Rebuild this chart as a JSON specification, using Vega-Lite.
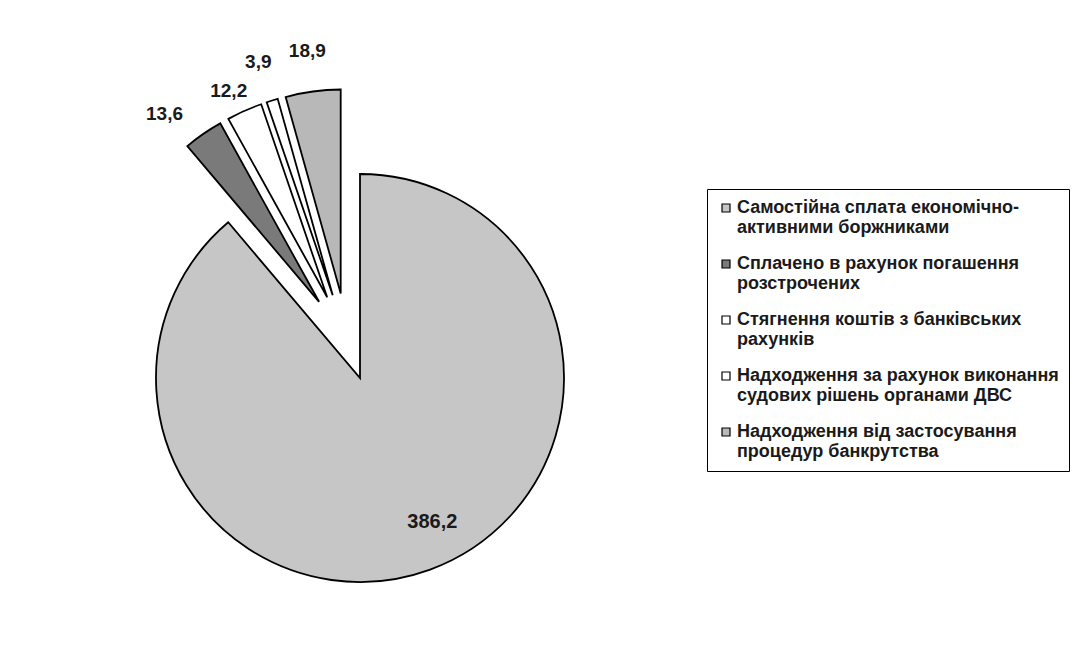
{
  "$schema": "https://vega.github.io/schema/vega-lite/v6.json",
  "width": 399,
  "height": 308,
  "autosize": {"type": "none"},
  "padding": {"left": 148, "top": 189, "right": 537, "bottom": 149},
  "background": "white",
  "config": {
    "view": {"stroke": null},
    "locale": {"number": {"decimal": ",", "thousands": " ", "grouping": [3], "currency": ["", ""]}},
    "text": {"font": "Liberation Sans", "fontWeight": "bold", "fontSize": 19, "fill": "#1a1a1a"}
  },
  "data": {
    "values": [
      {"cat": "Самостійна сплата  економічно-|активними боржниками", "value": 386.2, "order": 1},
      {"cat": "Сплачено в рахунок погашення|розстрочених", "value": 13.6, "order": 2},
      {"cat": "Стягнення коштів з банківських|рахунків", "value": 12.2, "order": 3},
      {"cat": "Надходження за рахунок виконання|судових рішень органами ДВС", "value": 3.9, "order": 4},
      {"cat": "Надходження від застосування|процедур банкрутства", "value": 18.9, "order": 5}
    ]
  },
  "encoding": {
    "theta": {"field": "value", "type": "quantitative", "stack": true},
    "order": {"field": "order", "type": "quantitative"}
  },
  "layer": [
    {
      "mark": {"type": "arc", "radius": 204, "stroke": "black", "strokeWidth": 1.8, "xOffset": 12.5, "yOffset": 35},
      "encoding": {
        "color": {
          "field": "cat", "type": "nominal",
          "scale": {
            "domain": [
              "Самостійна сплата  економічно-|активними боржниками",
              "Сплачено в рахунок погашення|розстрочених",
              "Стягнення коштів з банківських|рахунків",
              "Надходження за рахунок виконання|судових рішень органами ДВС",
              "Надходження від застосування|процедур банкрутства"
            ],
            "range": ["#c6c6c6", "#7a7a7a", "#ffffff", "#ffffff", "#b8b8b8"]
          },
          "legend": {
            "title": null,
            "orient": "right",
            "offset": 160,
            "symbolType": "square",
            "symbolSize": 64,
            "symbolStrokeColor": "black",
            "symbolStrokeWidth": 1.2,
            "labelFont": "Liberation Sans",
            "labelFontWeight": "bold",
            "labelFontSize": 18,
            "labelColor": "#1a1a1a",
            "labelLimit": 0,
            "labelOffset": 2,
            "labelExpr": "split(datum.label, '|')",
            "rowPadding": 18,
            "strokeColor": "black",
            "padding": 10
          }
        },
        "fillOpacity": {"condition": {"test": "datum.order == 1", "value": 1}, "value": 0},
        "strokeOpacity": {"condition": {"test": "datum.order == 1", "value": 1}, "value": 0}
      }
    },
    {
      "mark": {"type": "arc", "radius": 204, "stroke": "black", "strokeWidth": 1.8, "xOffset": -28.4, "yOffset": -41.2},
      "encoding": {
        "color": {"field": "cat", "type": "nominal"},
        "fillOpacity": {"condition": {"test": "datum.order == 2", "value": 1}, "value": 0},
        "strokeOpacity": {"condition": {"test": "datum.order == 2", "value": 1}, "value": 0}
      }
    },
    {
      "mark": {"type": "arc", "radius": 204, "stroke": "black", "strokeWidth": 1.8, "xOffset": -20.3, "yOffset": -45.7},
      "encoding": {
        "color": {"field": "cat", "type": "nominal"},
        "fillOpacity": {"condition": {"test": "datum.order == 3", "value": 1}, "value": 0},
        "strokeOpacity": {"condition": {"test": "datum.order == 3", "value": 1}, "value": 0}
      }
    },
    {
      "mark": {"type": "arc", "radius": 204, "stroke": "black", "strokeWidth": 1.8, "xOffset": -14.8, "yOffset": -47.7},
      "encoding": {
        "color": {"field": "cat", "type": "nominal"},
        "fillOpacity": {"condition": {"test": "datum.order == 4", "value": 1}, "value": 0},
        "strokeOpacity": {"condition": {"test": "datum.order == 4", "value": 1}, "value": 0}
      }
    },
    {
      "mark": {"type": "arc", "radius": 204, "stroke": "black", "strokeWidth": 1.8, "xOffset": -6.8, "yOffset": -49.5},
      "encoding": {
        "color": {"field": "cat", "type": "nominal"},
        "fillOpacity": {"condition": {"test": "datum.order == 5", "value": 1}, "value": 0},
        "strokeOpacity": {"condition": {"test": "datum.order == 5", "value": 1}, "value": 0}
      }
    },
    {
      "mark": {"type": "text", "radius": 161, "xOffset": 12.5, "yOffset": 35, "dx": 17, "dy": -7, "fontSize": 20},
      "encoding": {
        "text": {"field": "value", "type": "quantitative", "format": ".1f"},
        "opacity": {"condition": {"test": "datum.order == 1", "value": 1}, "value": 0}
      }
    },
    {
      "mark": {"type": "text", "radius": 244, "xOffset": -28.4, "yOffset": -41.2, "dx": -16, "dy": 13, "fontSize": 19},
      "encoding": {
        "text": {"field": "value", "type": "quantitative", "format": ".1f"},
        "opacity": {"condition": {"test": "datum.order == 2", "value": 1}, "value": 0}
      }
    },
    {
      "mark": {"type": "text", "radius": 228, "xOffset": -20.3, "yOffset": -45.7, "dx": -6, "dy": 2, "fontSize": 19},
      "encoding": {
        "text": {"field": "value", "type": "quantitative", "format": ".1f"},
        "opacity": {"condition": {"test": "datum.order == 3", "value": 1}, "value": 0}
      }
    },
    {
      "mark": {"type": "text", "radius": 244, "xOffset": -14.8, "yOffset": -47.7, "dx": -2, "fontSize": 19},
      "encoding": {
        "text": {"field": "value", "type": "quantitative", "format": ".1f"},
        "opacity": {"condition": {"test": "datum.order == 4", "value": 1}, "value": 0}
      }
    },
    {
      "mark": {"type": "text", "radius": 245, "xOffset": -6.8, "yOffset": -49.5, "fontSize": 19},
      "encoding": {
        "text": {"field": "value", "type": "quantitative", "format": ".1f"},
        "opacity": {"condition": {"test": "datum.order == 5", "value": 1}, "value": 0}
      }
    }
  ]
}
